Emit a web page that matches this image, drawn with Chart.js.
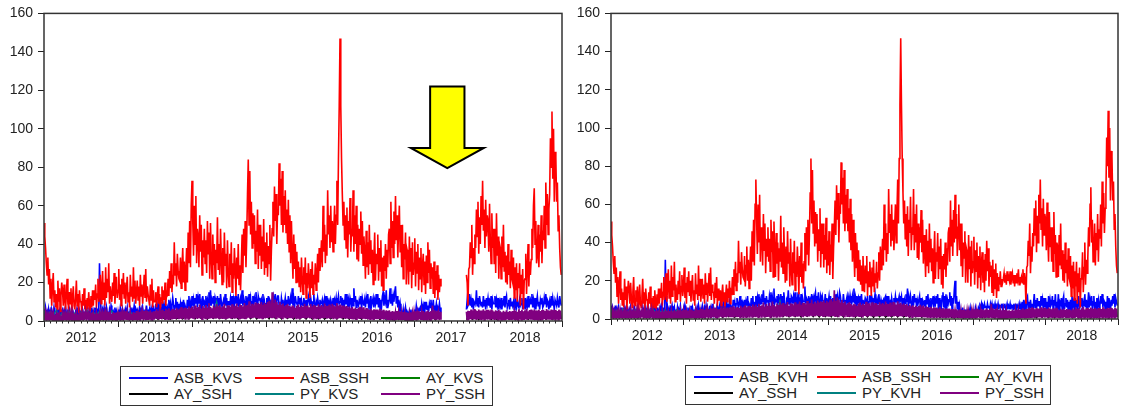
<!DOCTYPE html>
<html>
<head>
<meta charset="utf-8">
<script src="https://cdn.jsdelivr.net/npm/chart.js@4.4.1/dist/chart.umd.min.js"></script>
<style>
  html, body { margin: 0; padding: 0; background: #fff; }
  body { width: 1125px; height: 410px; position: relative; overflow: hidden;
         font-family: Arial, "Liberation Sans", sans-serif; }
  .panel { position: absolute; top: 0; }
  .legend { position: absolute; box-sizing: border-box; border: 1px solid #333;
            padding: 3px 0 0 8px; display: grid;
            grid-template-columns: var(--col) var(--col) auto; grid-auto-rows: 16px; }
  .legend .item { display: flex; align-items: center; }
  .legend .swatch { display: block; width: 39px; height: 2px; margin-right: 6px; flex: none; }
  .legend .label { font-size: 15px; color: #222; line-height: 16px; white-space: nowrap; }
</style>
</head>
<body>
<div class="panel" style="left:0;width:570px;height:360px"><canvas id="chartKvs" width="570" height="360"></canvas></div>
<div class="panel" style="left:570px;width:555px;height:360px"><canvas id="chartKvh" width="555" height="360"></canvas></div>
<div id="legendKvs" class="legend" style="left:120px;top:366px;width:373px;height:40px;--col:126px"></div>
<div id="legendKvh" class="legend" style="left:685px;top:365px;width:366px;height:40px;--col:123px"></div>
<script>
// Years on the time axis; each year gets 12 monthly ticks, label in the middle.
const firstYear = 2012;
const yearLabels = ['2012', '2013', '2014', '2015', '2016', '2017', '2018'];

// The KVS sample has no observations in this stretch of 2017.
const kvsSampleGap = [2017.37, 2017.70];

// 8 readings per month, one line per month, Jan 2012 .. Dec 2018.
const asbSsh = [
  51, 44, 38, 30, 24, 33, 19, 27,
  12, 22, 8, 18, 25, 10, 16, 7,
  14, 6, 21, 10, 17, 5, 13, 20,
  16, 8, 19, 11, 6, 14, 22, 9,
  7, 15, 9, 17, 5, 12, 18, 8,
  6, 12, 21, 8, 14, 4, 16, 10,
  10, 5, 14, 8, 17, 6, 11, 4,
  12, 6, 15, 9, 5, 13, 7, 16,
  8, 16, 11, 19, 7, 14, 22, 10,
  13, 24, 9, 17, 26, 11, 20, 8,
  28, 12, 22, 15, 30, 9, 18, 13,
  10, 20, 13, 25, 9, 17, 23, 12,
  // 2013
  16, 27, 11, 19, 8, 22, 14, 25,
  12, 20, 9, 17, 23, 10, 15, 7,
  24, 13, 18, 10, 28, 12, 21, 9,
  15, 21, 11, 18, 8, 24, 13, 19,
  9, 16, 24, 12, 27, 10, 18, 14,
  14, 8, 19, 11, 22, 7, 16, 10,
  10, 15, 7, 13, 18, 9, 14, 6,
  12, 18, 9, 16, 11, 20, 8, 15,
  14, 22, 13, 26, 17, 30, 15, 24,
  19, 41, 24, 30, 18, 35, 26, 22,
  21, 33, 17, 28, 38, 20, 31, 16,
  26, 38, 20, 46, 30, 52, 28, 60,
  // 2014
  73, 52, 34, 60, 40, 65, 30, 48,
  44, 28, 55, 36, 50, 24, 42, 33,
  48, 30, 42, 25, 52, 35, 46, 22,
  51, 34, 22, 45, 29, 40, 20, 37,
  30, 54, 27, 40, 24, 48, 33, 19,
  38, 20, 46, 29, 35, 17, 42, 26,
  18, 35, 24, 41, 15, 30, 22, 38,
  27, 13, 33, 22, 40, 19, 29, 16,
  30, 45, 25, 48, 34, 52, 28, 44,
  66, 84, 50, 78, 45, 62, 38, 56,
  40, 55, 30, 47, 36, 58, 27, 50,
  34, 50, 27, 44, 31, 53, 24, 41,
  // 2015
  28, 46, 23, 39, 30, 50, 21, 37,
  48, 62, 44, 70, 52, 66, 40, 58,
  55, 82, 60, 74, 50, 78, 46, 65,
  50, 68, 46, 58, 40, 63, 36, 55,
  30, 52, 35, 22, 45, 27, 40, 20,
  36, 20, 31, 18, 28, 15, 33, 22,
  14, 28, 19, 33, 12, 25, 17, 30,
  22, 12, 27, 17, 31, 14, 24, 19,
  30, 16, 24, 35, 20, 38, 26, 33,
  42, 28, 60, 36, 50, 30, 45, 34,
  68, 45, 55, 38, 60, 41, 52, 36,
  48, 60, 40, 55, 73, 50, 84, 112,
  // 2016
  147, 112, 84, 66, 50, 62, 42, 55,
  38, 59, 33, 52, 45, 64, 36, 48,
  44, 68, 36, 55, 40, 60, 32, 50,
  31, 48, 40, 57, 35, 52, 29, 44,
  36, 22, 47, 28, 41, 24, 50, 30,
  42, 25, 37, 19, 33, 46, 21, 35,
  30, 45, 21, 38, 26, 42, 18, 33,
  16, 34, 26, 40, 22, 37, 28, 45,
  48, 30, 62, 38, 52, 33, 57, 40,
  65, 42, 55, 33, 48, 60, 36, 50,
  28, 50, 22, 40, 32, 46, 19, 37,
  35, 19, 44, 26, 38, 17, 41, 24,
  // 2017
  30, 43, 18, 36, 25, 40, 16, 33,
  22, 38, 15, 29, 35, 19, 31, 14,
  34, 20, 41, 25, 37, 17, 30, 22,
  28, 14, 31, 12, 26, 16, 29, 11,
  24, 15, 22, 18, 25, 17, 21, 19,
  21, 24, 19, 23, 18, 25, 20, 22,
  20, 25, 18, 22, 24, 19, 23, 17,
  23, 19, 24, 21, 26, 18, 22, 20,
  22, 19, 26, 18, 24, 20, 8, 27,
  28, 41, 33, 50, 24, 38, 30, 45,
  38, 58, 44, 62, 35, 54, 40, 65,
  50, 73, 47, 58, 38, 63, 44, 55,
  // 2018
  52, 36, 61, 42, 30, 56, 38, 48,
  30, 48, 25, 56, 34, 44, 22, 40,
  38, 22, 44, 28, 50, 26, 36, 20,
  34, 19, 40, 24, 31, 17, 37, 22,
  20, 33, 12, 28, 16, 30, 10, 25,
  17, 30, 8, 24, 14, 27, 6, 21,
  22, 35, 14, 27, 40, 18, 31, 24,
  32, 48, 38, 60, 69, 40, 52, 30,
  34, 50, 28, 45, 36, 55, 30, 47,
  42, 60, 38, 72, 50, 66, 45, 58,
  66, 95, 80, 109, 74, 100, 62, 88,
  85, 62, 72, 47, 55, 38, 28, 24
];

const asbKvs = [
  6, 3, 7, 4, 5, 2, 6, 3,
  5, 2, 6, 4, 3, 7, 4, 2,
  3, 6, 4, 5, 2, 6, 3, 5,
  6, 3, 5, 2, 7, 4, 3, 6,
  4, 6, 3, 5, 2, 6, 4, 3,
  2, 5, 4, 6, 3, 7, 2, 5,
  5, 3, 6, 4, 2, 5, 3, 6,
  3, 5, 2, 6, 4, 3, 7, 4,
  5, 4, 7, 3, 6, 2, 5, 4,
  30, 14, 5, 3, 6, 4, 7, 3,
  4, 7, 3, 5, 2, 6, 4, 8,
  6, 3, 5, 4, 7, 2, 5, 3,
  // 2013
  4, 6, 3, 7, 5, 2, 6, 4,
  5, 3, 6, 4, 7, 3, 5, 2,
  6, 4, 7, 3, 5, 8, 4, 6,
  4, 6, 5, 3, 7, 4, 6, 3,
  7, 4, 5, 6, 3, 8, 4, 5,
  3, 6, 4, 7, 5, 3, 8, 4,
  6, 9, 5, 8, 4, 10, 6, 7,
  5, 10, 6, 8, 4, 9, 7, 5,
  7, 4, 11, 6, 9, 5, 8, 12,
  9, 5, 8, 12, 6, 10, 4, 9,
  6, 9, 4, 10, 7, 11, 5, 8,
  8, 5, 11, 7, 13, 6, 9, 4,
  // 2014
  13, 8, 11, 6, 12, 9, 14, 7,
  12, 9, 14, 8, 10, 5, 13, 9,
  10, 7, 13, 9, 11, 6, 15, 8,
  16, 8, 11, 9, 13, 6, 12, 10,
  9, 13, 8, 12, 6, 14, 10, 7,
  7, 11, 9, 14, 8, 12, 5, 10,
  10, 8, 12, 9, 13, 6, 11, 8,
  13, 9, 11, 8, 14, 7, 10, 12,
  9, 16, 8, 12, 10, 6, 13, 9,
  11, 8, 14, 9, 12, 7, 10, 13,
  8, 12, 10, 15, 9, 6, 13, 11,
  12, 9, 11, 8, 14, 7, 10, 6,
  // 2015
  9, 12, 8, 13, 6, 11, 10, 7,
  11, 7, 12, 9, 14, 8, 10, 13,
  13, 8, 10, 7, 12, 9, 11, 6,
  9, 12, 8, 11, 7, 13, 10, 8,
  12, 9, 17, 8, 11, 6, 13, 10,
  10, 8, 13, 9, 12, 7, 11, 9,
  8, 12, 10, 7, 11, 6, 9, 13,
  11, 8, 12, 9, 7, 10, 14, 8,
  7, 10, 8, 12, 9, 6, 11, 9,
  9, 11, 7, 10, 12, 8, 13, 7,
  12, 8, 10, 7, 11, 9, 6, 12,
  8, 11, 9, 12, 7, 10, 13, 9,
  // 2016
  10, 13, 8, 12, 7, 11, 9, 14,
  9, 14, 7, 11, 8, 12, 10, 6,
  12, 8, 17, 10, 13, 7, 11, 9,
  8, 11, 9, 13, 6, 12, 10, 8,
  11, 7, 12, 9, 14, 8, 10, 6,
  13, 8, 10, 12, 7, 11, 9, 14,
  9, 14, 7, 12, 6, 11, 8, 13,
  15, 8, 12, 10, 16, 7, 11, 9,
  11, 17, 9, 14, 8, 13, 10, 15,
  18, 9, 13, 7, 11, 6, 9, 5,
  5, 3, 6, 2, 4, 7, 3, 5,
  4, 2, 5, 3, 6, 2, 4, 3,
  // 2017
  3, 6, 4, 8, 5, 7, 4, 6,
  7, 5, 9, 6, 8, 4, 10, 6,
  10, 6, 8, 5, 9, 7, 11, 6,
  7, 11, 5, 8, 6, 9, 5, 7,
  6, 9, 5, 7, 8, 6, 9, 5,
  8, 5, 7, 6, 9, 5, 8, 6,
  6, 8, 5, 7, 6, 9, 5, 8,
  7, 5, 8, 6, 9, 5, 7, 6,
  8, 12, 7, 10, 6, 11, 8, 9,
  14, 8, 11, 7, 12, 6, 10, 9,
  9, 16, 8, 12, 7, 13, 10, 8,
  10, 7, 13, 8, 11, 6, 12, 9,
  // 2018
  12, 8, 10, 7, 13, 6, 11, 9,
  9, 13, 7, 11, 8, 12, 6, 10,
  8, 12, 6, 10, 9, 13, 7, 11,
  13, 7, 9, 11, 6, 12, 8, 10,
  8, 10, 6, 12, 9, 7, 11, 8,
  7, 11, 8, 9, 12, 6, 10, 8,
  12, 6, 10, 8, 13, 7, 9, 11,
  9, 14, 7, 11, 8, 12, 6, 10,
  13, 8, 10, 6, 11, 9, 12, 7,
  8, 12, 9, 14, 7, 11, 10, 6,
  10, 7, 13, 8, 12, 9, 6, 11,
  11, 8, 12, 9, 7, 13, 10, 8
];

const asbKvh = [
  7, 3, 6, 4, 5, 3, 7, 2,
  5, 3, 6, 2, 4, 6, 3, 5,
  4, 6, 3, 5, 2, 7, 4, 3,
  5, 3, 6, 2, 4, 5, 3, 6,
  4, 5, 3, 6, 2, 5, 4, 3,
  2, 4, 5, 3, 6, 2, 5, 4,
  6, 3, 5, 4, 2, 6, 3, 5,
  2, 6, 3, 5, 4, 2, 6, 3,
  4, 6, 3, 7, 5, 3, 6, 4,
  31, 12, 4, 6, 3, 5, 2, 6,
  5, 7, 3, 4, 6, 2, 5, 3,
  6, 2, 5, 4, 7, 3, 4, 5,
  // 2013
  5, 7, 3, 6, 4, 2, 6, 3,
  4, 3, 7, 4, 6, 3, 5, 2,
  5, 4, 6, 3, 7, 4, 5, 3,
  5, 7, 4, 3, 6, 4, 7, 3,
  6, 4, 5, 7, 3, 6, 4, 8,
  3, 5, 4, 6, 3, 7, 5, 4,
  7, 9, 5, 8, 4, 11, 6, 8,
  6, 11, 5, 8, 4, 9, 6, 7,
  6, 4, 10, 7, 9, 5, 8, 11,
  8, 5, 9, 12, 6, 10, 4, 8,
  6, 10, 4, 9, 7, 12, 5, 8,
  8, 6, 11, 7, 12, 5, 9, 4,
  // 2014
  12, 8, 11, 6, 13, 7, 10, 8,
  13, 9, 15, 8, 11, 5, 12, 9,
  10, 7, 12, 9, 14, 6, 11, 8,
  16, 8, 10, 9, 12, 6, 13, 9,
  8, 13, 9, 12, 6, 14, 10, 7,
  7, 10, 9, 15, 8, 11, 5, 12,
  11, 8, 12, 9, 14, 6, 10, 8,
  14, 9, 10, 8, 13, 7, 11, 9,
  9, 17, 8, 11, 10, 6, 12, 8,
  10, 8, 13, 9, 11, 7, 12, 14,
  7, 12, 10, 14, 8, 6, 12, 10,
  12, 9, 10, 8, 13, 6, 11, 7,
  // 2015
  9, 12, 8, 12, 6, 10, 11, 7,
  11, 7, 13, 9, 12, 8, 10, 14,
  12, 8, 10, 7, 13, 9, 10, 6,
  10, 12, 8, 11, 7, 12, 9, 8,
  12, 9, 16, 8, 11, 6, 12, 9,
  11, 8, 12, 9, 13, 7, 10, 8,
  8, 11, 10, 7, 12, 6, 9, 12,
  12, 8, 11, 9, 7, 10, 13, 8,
  7, 10, 8, 13, 9, 6, 10, 8,
  9, 10, 7, 11, 12, 8, 12, 7,
  12, 8, 9, 7, 11, 8, 6, 11,
  8, 12, 9, 11, 7, 10, 12, 9,
  // 2016
  10, 12, 7, 11, 6, 10, 8, 13,
  9, 16, 6, 11, 8, 12, 9, 5,
  12, 7, 13, 9, 11, 6, 10, 8,
  8, 12, 6, 11, 5, 10, 9, 7,
  10, 5, 12, 8, 13, 7, 9, 6,
  11, 7, 9, 12, 6, 10, 8, 12,
  8, 13, 5, 11, 4, 10, 7, 12,
  14, 6, 12, 4, 13, 5, 10, 8,
  10, 14, 7, 12, 5, 11, 8, 15,
  20, 8, 12, 5, 9, 4, 7, 3,
  4, 2, 6, 2, 3, 5, 2, 4,
  3, 5, 2, 4, 6, 2, 3, 4,
  // 2017
  2, 5, 3, 6, 4, 5, 3, 6,
  5, 7, 6, 8, 5, 7, 6, 8,
  6, 7, 5, 8, 6, 7, 5, 8,
  6, 8, 5, 7, 6, 8, 5, 7,
  6, 8, 5, 7, 7, 6, 8, 5,
  7, 6, 8, 5, 6, 8, 5, 7,
  6, 8, 5, 7, 7, 5, 8, 6,
  7, 5, 8, 6, 6, 8, 5, 7,
  4, 9, 3, 10, 5, 8, 4, 11,
  12, 5, 9, 4, 10, 6, 8, 3,
  8, 13, 6, 10, 5, 11, 7, 9,
  9, 4, 12, 7, 10, 5, 11, 6,
  // 2018
  11, 5, 9, 4, 12, 6, 10, 7,
  8, 12, 5, 10, 7, 13, 4, 9,
  7, 13, 4, 9, 8, 11, 5, 10,
  12, 5, 8, 11, 6, 10, 4, 9,
  6, 10, 4, 12, 7, 9, 5, 11,
  6, 10, 3, 9, 12, 5, 8, 7,
  11, 5, 9, 7, 13, 6, 10, 4,
  8, 14, 6, 10, 7, 12, 5, 9,
  12, 5, 9, 4, 11, 7, 10, 6,
  7, 12, 8, 13, 6, 10, 9, 5,
  9, 5, 12, 6, 11, 8, 4, 10,
  7, 12, 8, 13, 6, 11, 9, 7
];

const pySsh = [
  3.5, 0.4, 4.2, 0.7, 3.8, 0.3, 3.1, 0.9,
  4.0, 0.5, 3.6, 0.6, 4.3, 0.4, 3.3, 0.8,
  3.3, 0.4, 4.4, 0.8, 3.9, 0.3, 2.9, 0.7,
  3.7, 0.4, 4.1, 0.5, 3.4, 0.6, 4.0, 0.3,
  3.4, 0.6, 3.8, 0.3, 4.3, 0.7, 3.2, 0.5,
  3.9, 0.8, 4.5, 0.4, 3.5, 0.5, 4.1, 0.6,
  3.6, 0.5, 4.2, 0.3, 3.5, 0.9, 4.6, 0.5,
  3.8, 0.7, 4.0, 0.4, 3.3, 0.6, 4.4, 0.5,
  4.1, 0.5, 3.6, 0.8, 4.5, 0.4, 3.9, 0.6,
  3.7, 0.3, 4.3, 0.6, 3.8, 0.7, 4.2, 0.4,
  4.4, 0.6, 3.9, 0.5, 4.7, 0.3, 4.0, 0.8,
  3.8, 0.5, 4.6, 0.7, 4.1, 0.4, 4.5, 0.6,
  // 2013
  4.2, 0.6, 4.8, 0.9, 3.9, 0.5, 4.5, 1.0,
  4.1, 0.7, 5.0, 0.5, 4.6, 0.8, 4.3, 0.6,
  4.4, 0.9, 3.8, 0.4, 4.7, 0.8, 4.2, 0.6,
  5.2, 0.9, 4.0, 0.5, 4.8, 0.7, 4.4, 0.8,
  4.6, 1.1, 5.1, 0.7, 4.3, 0.5, 5.4, 1.0,
  4.8, 0.8, 5.6, 0.6, 4.5, 0.9, 5.0, 0.7,
  5.0, 1.2, 6.2, 0.9, 5.3, 0.7, 6.8, 1.1,
  5.5, 0.8, 6.0, 1.3, 5.2, 0.9, 6.4, 1.0,
  5.8, 1.0, 6.6, 0.8, 5.4, 1.2, 6.1, 0.9,
  6.3, 1.1, 5.7, 0.9, 6.9, 1.3, 6.0, 1.0,
  6.5, 1.2, 7.2, 1.0, 6.1, 1.4, 6.8, 1.1,
  7.0, 1.3, 6.4, 1.1, 7.6, 1.2, 6.7, 1.4,
  // 2014
  7.5, 1.2, 6.2, 1.0, 8.0, 1.5, 6.8, 1.1,
  7.2, 1.4, 8.6, 1.2, 6.5, 0.9, 7.8, 1.5,
  6.9, 1.3, 8.3, 1.0, 7.0, 1.6, 9.2, 1.2,
  7.4, 1.4, 6.6, 1.1, 8.1, 1.5, 7.3, 1.2,
  8.8, 1.4, 7.6, 1.0, 8.4, 1.3, 7.1, 1.5,
  7.7, 1.2, 8.9, 1.4, 6.8, 1.1, 8.2, 1.3,
  8.0, 1.5, 7.2, 1.1, 8.7, 1.4, 7.5, 1.2,
  7.9, 1.3, 9.1, 1.5, 7.4, 1.2, 8.5, 1.0,
  8.3, 1.6, 7.7, 1.2, 9.4, 1.4, 8.0, 1.3,
  8.4, 1.7, 10.2, 1.3, 7.9, 1.5, 9.0, 1.4,
  8.2, 1.8, 9.6, 1.5, 8.6, 1.3, 9.3, 1.6,
  8.9, 1.5, 9.8, 1.4, 8.5, 1.7, 9.5, 1.3,
  // 2015
  8.8, 1.6, 9.8, 1.4, 10.5, 1.9, 9.2, 1.5,
  15.0, 1.5, 9.4, 1.7, 11.2, 1.4, 9.9, 1.8,
  8.6, 1.9, 9.9, 1.6, 8.4, 1.3, 9.1, 1.8,
  7.6, 1.5, 8.3, 1.2, 8.9, 1.6, 7.8, 1.4,
  7.2, 1.4, 8.0, 1.1, 7.5, 1.7, 6.8, 1.3,
  7.9, 1.5, 8.6, 1.4, 7.3, 1.2, 8.1, 1.6,
  7.4, 1.6, 9.0, 1.2, 7.8, 1.4, 8.2, 1.7,
  7.1, 1.3, 8.8, 1.5, 7.6, 1.2, 8.4, 1.4,
  8.0, 1.4, 7.3, 1.6, 8.7, 1.3, 7.7, 1.5,
  8.3, 1.5, 7.5, 1.3, 9.1, 1.6, 7.9, 1.2,
  7.8, 1.4, 8.6, 1.2, 7.4, 1.5, 8.9, 1.3,
  8.2, 1.6, 7.6, 1.4, 9.3, 1.2, 8.0, 1.5,
  // 2016
  8.5, 1.4, 7.6, 1.2, 8.1, 1.6, 7.3, 1.1,
  7.8, 1.3, 6.9, 1.2, 7.5, 1.5, 6.6, 1.0,
  7.2, 1.2, 6.4, 1.4, 7.0, 0.9, 6.2, 1.3,
  6.8, 1.1, 7.4, 1.3, 6.5, 1.0, 7.1, 1.2,
  6.0, 0.9, 6.7, 1.1, 6.3, 0.8, 5.8, 1.0,
  6.4, 1.0, 5.6, 0.8, 6.1, 1.1, 5.9, 0.9,
  6.0, 0.9, 5.4, 1.1, 6.3, 0.8, 5.2, 1.0,
  5.8, 0.7, 5.0, 0.9, 5.6, 0.8, 5.3, 0.6,
  5.5, 0.7, 4.8, 0.8, 5.2, 0.6, 4.9, 0.9,
  4.4, 0.5, 5.1, 0.7, 4.6, 0.6, 4.9, 0.4,
  4.2, 0.4, 4.7, 0.6, 4.0, 0.5, 4.5, 0.3,
  4.3, 0.6, 3.9, 0.4, 4.6, 0.5, 4.1, 0.7,
  // 2017
  4.5, 0.5, 5.0, 0.7, 4.2, 0.4, 5.3, 0.8,
  4.8, 0.6, 4.4, 0.5, 5.1, 0.7, 4.6, 0.4,
  5.0, 0.6, 5.5, 0.8, 4.7, 0.5, 5.2, 0.7,
  8.0, 0.9, 5.6, 0.7, 4.9, 0.6, 5.4, 0.8,
  4.4, 0.5, 4.8, 0.7, 4.2, 0.4, 4.6, 0.6,
  4.3, 0.5, 4.7, 0.7, 4.1, 0.4, 4.5, 0.6,
  4.6, 0.6, 4.2, 0.5, 4.9, 0.7, 4.4, 0.5,
  4.5, 0.7, 4.9, 0.5, 4.3, 0.6, 4.8, 0.4,
  5.0, 0.8, 5.6, 0.6, 4.8, 0.7, 5.3, 0.5,
  5.2, 0.9, 6.0, 0.7, 5.4, 1.0, 6.2, 0.8,
  5.7, 0.6, 5.1, 0.9, 5.9, 0.7, 5.4, 0.8,
  5.5, 0.8, 6.1, 0.6, 5.3, 0.9, 5.8, 0.7,
  // 2018
  5.8, 0.8, 5.2, 0.6, 6.0, 0.9, 5.4, 0.7,
  4.9, 0.5, 5.6, 0.8, 5.1, 0.6, 5.9, 0.7,
  5.0, 0.6, 4.6, 0.4, 5.3, 0.7, 4.8, 0.5,
  5.5, 0.8, 4.7, 0.6, 5.2, 0.7, 4.9, 0.5,
  5.1, 0.7, 4.5, 0.4, 5.4, 0.6, 4.8, 0.5,
  6.1, 0.9, 5.2, 0.7, 5.8, 0.5, 5.0, 0.6,
  5.6, 0.8, 6.3, 0.6, 5.0, 0.9, 5.7, 0.7,
  5.9, 0.7, 5.3, 0.5, 6.0, 0.8, 5.5, 0.6,
  5.4, 0.6, 5.9, 0.8, 5.1, 0.7, 5.7, 0.5,
  5.8, 0.9, 5.2, 0.6, 6.2, 0.8, 5.5, 0.7,
  5.3, 0.7, 5.9, 0.5, 5.6, 0.8, 6.0, 0.6,
  5.7, 0.8, 5.1, 0.6, 5.9, 0.7, 5.4, 0.9
];

// Half-monthly readings (2 per month), one line per year.
const aySsh = [
  1.8, 0.6, 2.2, 0.9, 1.5, 0.7, 2.4, 1.0, 1.7, 0.5, 2.0, 0.8, 1.6, 0.9, 2.3, 0.6, 1.9, 1.1, 2.1, 0.7, 1.4, 0.8, 2.5, 0.9,
  2.0, 0.7, 2.6, 1.0, 1.8, 0.8, 2.2, 0.6, 2.7, 1.1, 1.9, 0.9, 2.4, 0.7, 3.0, 1.2, 2.1, 0.8, 2.8, 1.0, 2.3, 0.9, 3.2, 1.1,
  2.9, 1.0, 3.4, 1.2, 2.6, 0.9, 3.1, 1.3, 2.8, 1.1, 3.6, 1.0, 2.7, 1.2, 3.3, 0.9, 3.0, 1.4, 3.8, 1.1, 2.9, 1.0, 3.5, 1.2,
  3.2, 1.1, 4.0, 1.3, 3.4, 1.0, 3.7, 1.2, 2.9, 0.9, 3.3, 1.1, 2.6, 1.0, 3.0, 0.8, 2.8, 1.2, 3.1, 0.9, 2.7, 1.1, 3.2, 1.0,
  3.0, 1.0, 2.7, 0.9, 3.2, 1.1, 2.5, 0.8, 2.8, 1.0, 2.4, 0.9, 2.2, 0.7, 2.6, 0.8, 2.0, 0.6, 2.3, 0.7, 1.8, 0.6, 2.1, 0.8,
  1.9, 0.6, 2.2, 0.7, 2.6, 0.8, 1.8, 0.5, 2.0, 0.7, 1.7, 0.6, 2.1, 0.8, 1.9, 0.5, 2.3, 0.7, 2.5, 0.8, 2.2, 0.6, 2.7, 0.9,
  2.4, 0.7, 2.0, 0.6, 2.6, 0.8, 2.2, 0.7, 1.8, 0.5, 2.3, 0.6, 2.5, 0.8, 2.1, 0.7, 2.4, 0.6, 2.8, 0.9, 2.2, 0.7, 2.6, 0.8
];

const ayKvs = [
  2.8, 1.0, 3.5, 1.4, 2.6, 0.9, 3.1, 1.2, 2.4, 1.1, 3.3, 0.8, 2.9, 1.3, 3.6, 1.0, 2.7, 1.2, 3.0, 0.9, 2.5, 1.1, 3.4, 1.0,
  3.1, 1.2, 2.6, 0.9, 3.4, 1.1, 2.8, 1.3, 3.2, 1.0, 2.7, 1.2, 3.6, 1.4, 3.0, 1.1, 4.2, 1.3, 3.5, 1.2, 4.6, 1.5, 3.8, 1.2,
  4.0, 1.4, 3.5, 1.2, 4.4, 1.6, 3.8, 1.3, 4.2, 1.5, 3.6, 1.2, 4.1, 1.4, 3.7, 1.3, 4.5, 1.6, 3.9, 1.4, 4.3, 1.2, 3.8, 1.5,
  4.1, 1.3, 4.6, 1.5, 3.9, 1.2, 4.4, 1.4, 3.7, 1.3, 4.2, 1.1, 3.6, 1.2, 4.0, 1.4, 3.5, 1.0, 3.9, 1.3, 3.4, 1.2, 3.8, 1.1,
  3.7, 1.2, 3.3, 1.0, 3.9, 1.3, 3.4, 1.1, 3.6, 1.2, 3.1, 1.0, 3.3, 1.1, 2.9, 0.6, 2.7, 0.8, 2.4, 0.7, 2.2, 0.6, 2.5, 0.8,
  2.3, 0.7, 2.6, 0.8, 2.9, 0.9, 2.5, 0.7, 2.7, 0.8, 2.4, 0.7, 2.6, 0.9, 2.3, 0.8, 2.9, 1.0, 3.1, 0.9, 2.8, 1.0, 3.2, 1.1,
  3.0, 1.0, 2.7, 0.9, 3.3, 1.1, 2.9, 1.0, 2.6, 0.8, 3.1, 1.0, 2.8, 0.9, 3.4, 1.1, 3.0, 1.0, 3.2, 0.9, 2.9, 1.1, 3.3, 1.0
];

const ayKvh = [
  2.5, 1.1, 3.2, 1.3, 2.8, 0.8, 3.4, 1.0, 2.2, 1.2, 3.0, 0.9, 2.6, 1.4, 3.3, 0.8, 2.9, 1.1, 2.7, 1.0, 2.3, 1.2, 3.1, 0.9,
  2.9, 1.0, 2.4, 1.1, 3.2, 0.9, 2.6, 1.2, 3.5, 1.1, 2.5, 1.0, 3.3, 1.3, 2.8, 1.2, 3.9, 1.1, 3.3, 1.4, 4.4, 1.2, 3.6, 1.3,
  3.8, 1.3, 3.3, 1.1, 4.1, 1.5, 3.6, 1.2, 4.0, 1.4, 3.4, 1.3, 3.9, 1.2, 3.5, 1.4, 4.3, 1.5, 3.7, 1.3, 4.1, 1.1, 3.6, 1.4,
  3.9, 1.2, 4.4, 1.4, 3.7, 1.3, 4.2, 1.5, 3.5, 1.2, 4.0, 1.0, 3.4, 1.3, 3.8, 1.2, 3.3, 1.1, 3.7, 1.2, 3.2, 1.0, 3.6, 1.2,
  3.5, 1.1, 3.1, 0.9, 3.7, 1.2, 3.2, 1.0, 3.4, 1.1, 2.9, 0.9, 3.1, 1.0, 2.7, 0.8, 2.5, 0.7, 2.2, 0.6, 2.0, 0.7, 2.3, 0.8,
  2.1, 0.8, 2.4, 0.7, 2.2, 0.9, 2.5, 0.8, 2.3, 0.7, 2.6, 0.9, 2.4, 0.8, 2.2, 0.7, 2.7, 0.9, 2.9, 1.0, 2.6, 0.9, 3.0, 1.0,
  2.8, 0.9, 2.5, 1.0, 3.1, 1.0, 2.7, 0.9, 2.4, 0.9, 2.9, 1.1, 2.6, 1.0, 3.2, 1.0, 2.8, 0.9, 3.0, 1.1, 2.7, 1.0, 3.1, 0.9
];

const pyKvs = [
  5.2, 2.4, 4.8, 2.9, 5.6, 2.2, 4.5, 3.0, 5.0, 2.6, 4.2, 2.1, 4.9, 2.8, 5.4, 2.3, 4.6, 2.7, 5.1, 2.5, 4.4, 2.9, 5.3, 2.4,
  4.7, 2.2, 4.1, 2.6, 4.9, 2.3, 4.4, 2.8, 4.0, 2.1, 4.6, 2.5, 4.3, 2.0, 5.2, 2.6, 4.5, 2.4, 5.6, 2.7, 4.8, 2.3, 5.4, 2.5,
  5.8, 2.6, 6.4, 2.9, 5.5, 2.4, 6.1, 2.7, 10.0, 2.5, 6.6, 2.8, 5.7, 2.3, 6.2, 2.6, 6.9, 2.9, 5.9, 2.4, 6.5, 2.7, 6.0, 2.5,
  6.3, 2.8, 7.1, 2.6, 6.0, 2.5, 6.7, 2.9, 5.6, 2.4, 6.2, 2.6, 5.3, 2.2, 5.9, 2.5, 5.1, 2.3, 5.7, 2.6, 5.0, 2.1, 5.5, 2.4,
  5.4, 2.3, 5.9, 2.5, 5.2, 2.1, 5.6, 2.4, 5.0, 2.2, 5.3, 2.0, 4.7, 1.9, 5.1, 0.8, 4.4, 1.7, 4.0, 1.5, 3.6, 1.3, 3.9, 1.6,
  3.7, 1.4, 4.1, 1.6, 3.8, 1.5, 4.3, 1.7, 3.9, 1.4, 3.6, 1.5, 3.8, 1.6, 3.5, 1.4, 4.0, 1.7, 4.4, 1.6, 4.1, 1.8, 4.6, 1.7,
  4.3, 1.6, 4.0, 1.5, 4.5, 1.7, 4.2, 1.6, 3.8, 1.4, 4.4, 1.7, 4.1, 1.5, 4.6, 1.8, 4.2, 1.6, 4.7, 1.7, 4.0, 1.5, 4.5, 1.6
];

const pyKvh = [
  5.0, 2.5, 4.6, 3.0, 5.4, 2.3, 4.3, 2.9, 4.8, 2.7, 4.0, 2.2, 4.7, 2.9, 5.2, 2.4, 4.4, 2.8, 4.9, 2.6, 4.2, 3.0, 5.1, 2.5,
  4.5, 2.3, 3.9, 2.7, 4.7, 2.4, 4.2, 2.9, 3.8, 2.2, 4.4, 2.6, 4.1, 2.1, 5.0, 2.7, 4.3, 2.5, 5.4, 2.8, 4.6, 2.4, 5.2, 2.6,
  5.6, 2.7, 6.2, 3.0, 5.3, 2.5, 5.9, 2.8, 9.6, 2.6, 6.4, 2.9, 5.5, 2.4, 6.0, 2.7, 6.7, 3.0, 5.7, 2.5, 6.3, 2.8, 5.8, 2.6,
  6.1, 2.9, 6.9, 2.7, 5.8, 2.6, 6.5, 3.0, 5.4, 2.5, 6.0, 2.7, 5.1, 2.3, 5.7, 2.6, 4.9, 2.4, 5.5, 2.7, 4.8, 2.2, 5.3, 2.5,
  5.2, 2.4, 5.7, 2.6, 5.0, 2.2, 5.4, 2.5, 4.8, 2.3, 5.1, 2.1, 4.5, 2.0, 4.9, 0.9, 4.2, 1.8, 3.8, 1.6, 3.4, 1.4, 3.7, 1.7,
  3.5, 1.5, 3.9, 1.7, 3.6, 1.6, 4.1, 1.8, 3.7, 1.5, 3.4, 1.6, 3.6, 1.7, 3.3, 1.5, 3.8, 1.8, 4.2, 1.7, 3.9, 1.9, 4.4, 1.8,
  4.1, 1.7, 3.8, 1.6, 4.3, 1.8, 4.0, 1.7, 3.6, 1.5, 4.2, 1.8, 3.9, 1.6, 4.4, 1.9, 4.0, 1.7, 4.5, 1.8, 3.8, 1.6, 4.3, 1.7
];

const kvsNames = ['ASB_KVS', 'ASB_SSH', 'AY_KVS', 'AY_SSH', 'PY_KVS', 'PY_SSH'];
const kvhNames = ['ASB_KVH', 'ASB_SSH', 'AY_KVH', 'AY_SSH', 'PY_KVH', 'PY_SSH'];
const kvsValues = [asbKvs, asbSsh, ayKvs, aySsh, pyKvs, pySsh];
const kvhValues = [asbKvh, asbSsh, ayKvh, aySsh, pyKvh, pySsh];

const seriesColors = ['#0000ff', '#ff0000', '#008000', '#000000', '#008080', '#800080'];
const seriesWidths = [1.6, 1.6, 1.1, 1.1, 1.3, 1.7];
// Later series are painted over earlier ones (purple ends up on top).
const drawOrder = [5, 4, 3, 2, 1, 0];

const monthTicks = [];
for (let m = 0; m <= yearLabels.length * 12; m++) {
  monthTicks.push(firstYear + m / 12);
}

Chart.defaults.font.family = 'Arial, "Liberation Sans", sans-serif';
Chart.defaults.font.size = 14;
Chart.defaults.color = '#222';

function toPoints(values, gap) {
  const perYear = values.length / yearLabels.length;
  return values.map((v, i) => {
    const t = firstYear + i / perYear;
    const missing = gap && t > gap[0] && t < gap[1];
    return { x: t, y: missing ? null : v };
  });
}

// Dark box around the plot area.
const framePlugin = {
  id: 'plotFrame',
  afterDraw(chart) {
    const { ctx, chartArea: a } = chart;
    ctx.save();
    ctx.strokeStyle = '#333';
    ctx.lineWidth = 1.5;
    ctx.strokeRect(a.left, a.top, a.right - a.left, a.bottom - a.top);
    ctx.restore();
  }
};

// Yellow down arrow pointing at the missing stretch.
const arrowPlugin = {
  id: 'gapArrow',
  afterDatasetsDraw(chart, args, opts) {
    if (!opts || opts.at === undefined) return;
    const { ctx, scales: { x, y } } = chart;
    const cx = x.getPixelForValue(opts.at);
    const hs = x.getPixelForValue(opts.at + opts.shaftHalf) - cx;
    const hh = x.getPixelForValue(opts.at + opts.headHalf) - cx;
    const yTop = y.getPixelForValue(opts.top);
    const yNeck = y.getPixelForValue(opts.neck);
    const yTip = y.getPixelForValue(opts.tip);
    ctx.save();
    ctx.beginPath();
    ctx.moveTo(cx - hs, yTop);
    ctx.lineTo(cx + hs, yTop);
    ctx.lineTo(cx + hs, yNeck);
    ctx.lineTo(cx + hh, yNeck);
    ctx.lineTo(cx, yTip);
    ctx.lineTo(cx - hh, yNeck);
    ctx.lineTo(cx - hs, yNeck);
    ctx.closePath();
    ctx.fillStyle = '#ffff00';
    ctx.fill();
    ctx.lineWidth = 2;
    ctx.lineJoin = 'miter';
    ctx.strokeStyle = '#000';
    ctx.stroke();
    ctx.restore();
  }
};

function makeChart(canvasId, names, values, gap, box, arrow) {
  const datasets = names.map((name, i) => ({
    label: name,
    data: toPoints(values[i], gap),
    borderColor: seriesColors[i],
    backgroundColor: seriesColors[i],
    borderWidth: seriesWidths[i],
    pointRadius: 0,
    tension: 0,
    order: drawOrder[i]
  }));

  return new Chart(document.getElementById(canvasId), {
    type: 'line',
    data: { datasets },
    plugins: [framePlugin, arrowPlugin],
    options: {
      responsive: false,
      animation: false,
      events: [],
      layout: { padding: { top: box.top, right: box.right, left: 0, bottom: 0 } },
      plugins: {
        legend: { display: false },
        tooltip: { enabled: false },
        gapArrow: arrow || {}
      },
      scales: {
        x: {
          type: 'linear',
          min: firstYear,
          max: firstYear + yearLabels.length,
          afterBuildTicks: (scale) => { scale.ticks = monthTicks.map(v => ({ value: v })); },
          afterFit: (scale) => { scale.height = box.axisH; },
          ticks: {
            autoSkip: false,
            maxRotation: 0,
            padding: 3,
            callback: (v, i) => (i % 12 === 6 ? yearLabels[Math.floor(i / 12)] : '')
          },
          grid: {
            drawOnChartArea: false,
            tickLength: 6,
            tickColor: '#222',
            tickWidth: 1,
            // month ticks are short, year ticks full length
            tickBorderDash: (ctx) => (ctx.index % 12 === 0 ? [] : [2.5, 20])
          },
          border: { display: false }
        },
        y: {
          min: 0,
          max: 160,
          afterFit: (scale) => { scale.width = box.axisW; },
          ticks: { stepSize: 20, padding: 5 },
          grid: { drawOnChartArea: false, tickLength: 6, tickColor: '#222' },
          border: { display: false }
        }
      }
    }
  });
}

function buildLegend(el, chart) {
  chart.data.datasets.forEach(ds => {
    const item = document.createElement('div');
    item.className = 'item';
    const sw = document.createElement('span');
    sw.className = 'swatch';
    sw.style.backgroundColor = ds.borderColor;
    const txt = document.createElement('span');
    txt.className = 'label';
    txt.textContent = ds.label;
    item.appendChild(sw);
    item.appendChild(txt);
    el.appendChild(item);
  });
}

const kvsChart = makeChart('chartKvs', kvsNames, kvsValues, kvsSampleGap,
  { top: 10, right: 8, axisW: 44, axisH: 39 },
  { at: 2017.45, shaftHalf: 0.232, headHalf: 0.493, top: 122, neck: 90, tip: 79.5 });
const kvhChart = makeChart('chartKvh', kvhNames, kvhValues, null,
  { top: 13, right: 7, axisW: 41, axisH: 41 });

buildLegend(document.getElementById('legendKvs'), kvsChart);
buildLegend(document.getElementById('legendKvh'), kvhChart);
</script>
</body>
</html>
